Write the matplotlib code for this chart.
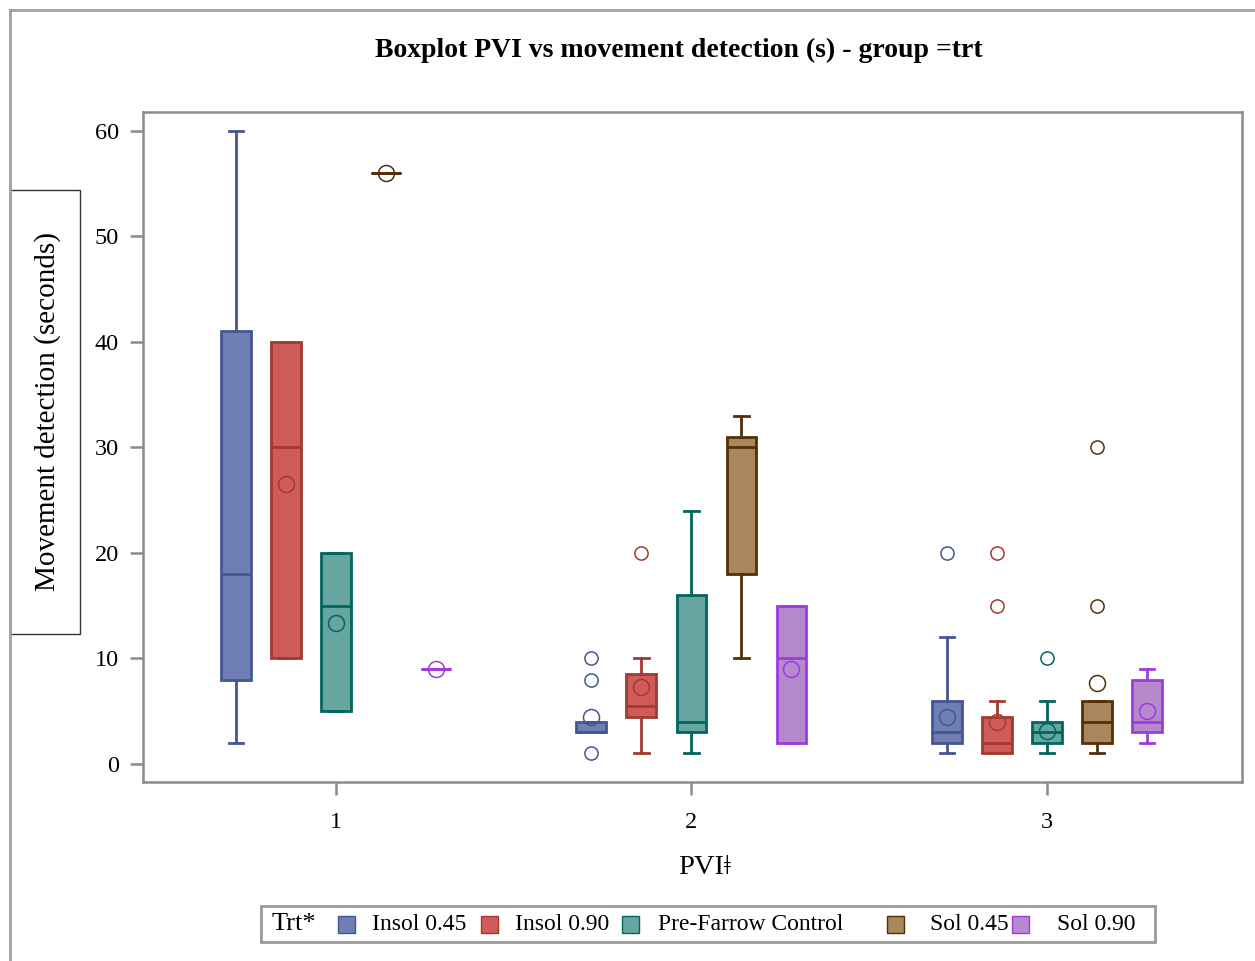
import numpy as np
import matplotlib
matplotlib.use("Agg")
import matplotlib.pyplot as plt
from matplotlib.patches import Rectangle
from matplotlib.lines import Line2D

plt.rcParams['font.family'] = ['Liberation Serif', 'DejaVu Serif']

# ---------------- data ----------------
groups = [1, 2, 3]
group_labels = ["1", "2", "3"]
treatments = ["Insol 0.45", "Insol 0.90", "Pre-Farrow Control", "Sol 0.45", "Sol 0.90"]
fill_colors = ["#6F7EB3", "#D05B5B", "#66A5A0", "#A9865B", "#B689CD"]
edge_colors = ["#445694", "#A23A2E", "#01665E", "#543005", "#9D3CDB"]

# per treatment, per PVI group: (whislo, q1, med, q3, whishi)
insol045_stats = [(2, 8, 18, 41, 60), (3, 3, 3, 4, 4), (1, 2, 3, 6, 12)]
insol090_stats = [(10, 10, 30, 40, 40), (1, 4.5, 5.5, 8.5, 10), (1, 1, 2, 4.5, 6)]
prefarrow_stats = [(5, 5, 15, 20, 20), (1, 3, 4, 16, 24), (1, 2, 3, 4, 6)]
sol045_stats = [(56, 56, 56, 56, 56), (10, 18, 30, 31, 33), (1, 2, 4, 6, 6)]
sol090_stats = [(9, 9, 9, 9, 9), (2, 2, 10, 15, 15), (2, 3, 4, 8, 9)]

insol045_outliers = [[], [1, 8, 10], [20]]
insol090_outliers = [[], [20], [15, 20]]
prefarrow_outliers = [[], [], [10]]
sol045_outliers = [[], [], [15, 30]]
sol090_outliers = [[], [], []]

insol045_means = [np.nan, 4.5, 4.5]
insol090_means = [26.5, 7.3, 4.0]
prefarrow_means = [13.4, np.nan, 3.1]
sol045_means = [56, np.nan, 7.7]
sol090_means = [9, 9, 5]

all_stats = [insol045_stats, insol090_stats, prefarrow_stats, sol045_stats, sol090_stats]
all_outliers = [insol045_outliers, insol090_outliers, prefarrow_outliers, sol045_outliers, sol090_outliers]
all_means = [insol045_means, insol090_means, prefarrow_means, sol045_means, sol090_means]

yticks = [0, 10, 20, 30, 40, 50, 60]

# ---------------- figure ----------------
W, H = 1255, 961
fig = plt.figure(figsize=(W / 100, H / 100), dpi=100)

def fx(px):
    return px / W

def fy(py):
    return 1 - py / H

ax = fig.add_axes([fx(143), fy(782), fx(1242) - fx(143), fy(112) - fy(782)])

offset = 0.1407
box_w = 0.084
cap_w = 0.04
grey = "#8c8c8c"
lw = 2.0

for i in range(len(treatments)):
    stats = []
    for g in range(len(groups)):
        lo, q1, med, q3, hi = all_stats[i][g]
        stats.append(dict(whislo=lo, q1=q1, med=med, q3=q3, whishi=hi,
                          fliers=all_outliers[i][g]))
    pos = [groups[g] + (i - 2) * offset for g in range(len(groups))]
    ec = edge_colors[i]
    ax.bxp(stats, positions=pos, widths=box_w, capwidths=cap_w,
           patch_artist=True, showmeans=False, manage_ticks=False,
           boxprops=dict(facecolor=fill_colors[i], edgecolor=ec, linewidth=lw),
           medianprops=dict(color=ec, linewidth=lw),
           whiskerprops=dict(color=ec, linewidth=lw),
           capprops=dict(color=ec, linewidth=lw),
           flierprops=dict(marker='o', markerfacecolor='none', markeredgecolor=ec,
                           markersize=9.5, markeredgewidth=1.1, linestyle='none'))
    ax.plot(pos, all_means[i], linestyle='none', marker='o', markerfacecolor='none',
            markeredgecolor=ec, markersize=11.5, markeredgewidth=1.1, zorder=5)

ax.set_xlim(0.457, 3.549)
ax.set_ylim(-1.706, 61.8)
ax.set_xticks(groups)
ax.set_xticklabels(group_labels)
ax.set_yticks(yticks)
for s in ax.spines.values():
    s.set_color(grey)
    s.set_linewidth(1.8)
ax.tick_params(axis='both', which='both', direction='out', length=9.5, width=1.8,
               color=grey, labelsize=17.5, labelcolor='black')
ax.tick_params(axis='y', pad=8)
ax.tick_params(axis='x', pad=12)

# title and labels
fig.text(fx(679), fy(50), "Boxplot PVI vs movement detection (s) - group =trt",
         ha='center', va='center', fontsize=20, fontweight='bold')
fig.text(fx(705), fy(867), "PVI\u01c2", ha='center', va='center', fontsize=20.5)
fig.text(fx(48), fy(412), "Movement detection (seconds)", ha='center', va='center',
         rotation=90, fontsize=21)
fig.add_artist(Rectangle((fx(10), fy(634)), fx(80) - fx(10), fy(190) - fy(634),
                         transform=fig.transFigure, fill=False, edgecolor='#333333',
                         linewidth=1.0))

# outer border
fig.add_artist(Line2D([fx(9.5), fx(9.5)], [0, fy(9.5)], transform=fig.transFigure,
                      color='#a0a0a0', linewidth=2.0))
fig.add_artist(Line2D([fx(9.5), 1], [fy(9.5), fy(9.5)], transform=fig.transFigure,
                      color='#a0a0a0', linewidth=2.0))

# legend
fig.add_artist(Rectangle((fx(261), fy(942)), fx(1155) - fx(261), fy(906) - fy(942),
                         transform=fig.transFigure, fill=False, edgecolor='#999999',
                         linewidth=2.0))
fig.text(fx(272), fy(924), "Trt*", ha='left', va='center', fontsize=19)
patch_x = [338, 481, 622, 887, 1012]
label_x = [372, 515, 658, 930, 1057]
for i in range(len(treatments)):
    fig.add_artist(Rectangle((fx(patch_x[i]), fy(933)), fx(17), fy(0) - fy(17),
                             transform=fig.transFigure, facecolor=fill_colors[i],
                             edgecolor=edge_colors[i], linewidth=1.0))
    fig.text(fx(label_x[i]), fy(924), treatments[i], ha='left', va='center', fontsize=17)

fig.savefig("out.png", dpi=100)
